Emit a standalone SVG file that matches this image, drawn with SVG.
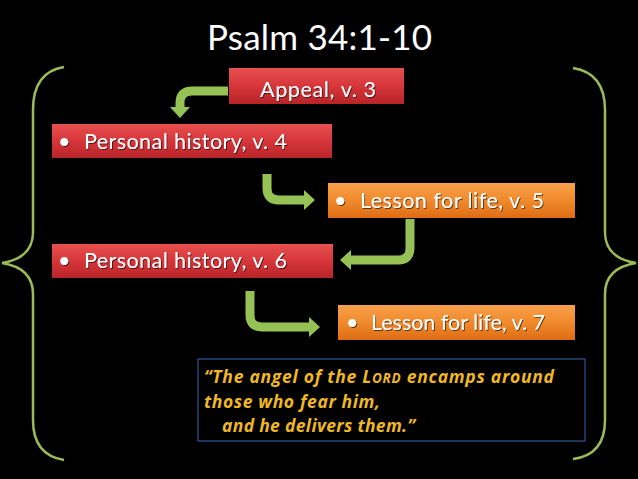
<svg xmlns="http://www.w3.org/2000/svg" width="638" height="479" viewBox="0 0 638 479">
<defs>
<linearGradient id="red" x1="0" y1="0" x2="0" y2="1"><stop offset="0" stop-color="#e8504f"/><stop offset="0.5" stop-color="#d6363a"/><stop offset="1" stop-color="#b82428"/></linearGradient>
<linearGradient id="orange" x1="0" y1="0" x2="0" y2="1"><stop offset="0" stop-color="#f7a04a"/><stop offset="0.5" stop-color="#f08a2c"/><stop offset="1" stop-color="#de6c14"/></linearGradient>
<marker id="head" markerUnits="userSpaceOnUse" markerWidth="12" markerHeight="20" refX="0" refY="10" orient="auto" viewBox="0 0 12 20"><path d="M0,0 L11,10 L0,20 z" fill="#96c255"/></marker>
<filter id="ts" x="-5%" y="-20%" width="110%" height="140%"><feDropShadow dx="1" dy="1" stdDeviation="0.6" flood-color="#000" flood-opacity="0.6"/></filter>
</defs>
<style>
.box{stroke:none}
.t{font-family:Lato,"Open Sans","Liberation Sans",sans-serif;font-size:21.5px;fill:#fff;filter:url(#ts)}
.q{font-family:"Open Sans","Liberation Sans",sans-serif;font-size:17.5px;font-weight:bold;font-style:italic;fill:#f0b824}
.arr{fill:none;stroke:#96c255;stroke-width:9;marker-end:url(#head)}
.brace{fill:none;stroke:#9bbb59;stroke-width:2.5}
</style>
<rect width="638" height="479" fill="#000"/>
<text x="207" y="50" textLength="225" font-family="Lato,'Open Sans','Liberation Sans',sans-serif" font-size="35" fill="#fff">Psalm 34:1-10</text>
<g id="braces">
<path class="brace" d="M64 67 Q33 72 33 110 V232 Q33 258 2 263 Q33 268 33 294 V420 Q33 455 64 460"/>
<path class="brace" d="M573 68 Q605 73 605 110 V232 Q605 258 636 263 Q605 268 605 294 V420 Q605 455 573 459"/>
</g>
<g id="connectors">
<path class="arr" d="M228 91 H192 Q180 91 180 103 V107"/>
<path class="arr" d="M267 174 V188 Q267 200 279 200 H304"/>
<path class="arr" d="M410 219 V248 Q410 260 398 260 H351"/>
<path class="arr" d="M250 291 V315 Q250 327 262 327 H309"/>
</g>
<g id="appeal">
<rect class="box" x="229" y="68" width="175" height="36" fill="url(#red)"/>
<text class="t" x="260" y="97" textLength="116">Appeal, v. 3</text>
</g>
<g id="history4">
<rect class="box" x="52" y="124" width="280" height="34" fill="url(#red)"/>
<text class="t" x="58" y="149">•</text>
<text class="t" x="84" y="149" textLength="203">Personal history, v. 4</text>
</g>
<g id="lesson5">
<rect class="box" x="328" y="183" width="247" height="35" fill="url(#orange)"/>
<text class="t" x="334" y="208">•</text>
<text class="t" x="360" y="208" textLength="184">Lesson for life, v. 5</text>
</g>
<g id="history6">
<rect class="box" x="52" y="244" width="281" height="34" fill="url(#red)"/>
<text class="t" x="58" y="268">•</text>
<text class="t" x="84" y="268" textLength="203">Personal history, v. 6</text>
</g>
<g id="lesson7">
<rect class="box" x="338" y="305" width="237" height="35" fill="url(#orange)"/>
<text class="t" x="346" y="330">•</text>
<text class="t" x="371" y="330" textLength="174">Lesson for life, v. 7</text>
</g>
<g id="quote">
<rect x="198" y="359" width="387" height="82" fill="none" stroke="#2c5596" stroke-width="1.2"/>
<text class="q" x="204" y="383" textLength="350">“The angel of the L<tspan font-size="13.5">ORD</tspan> encamps around</text>
<text class="q" x="204" y="408" textLength="176">those who fear him,</text>
<text class="q" x="222" y="432" textLength="193">and he delivers them.”</text>
</g>
</svg>
